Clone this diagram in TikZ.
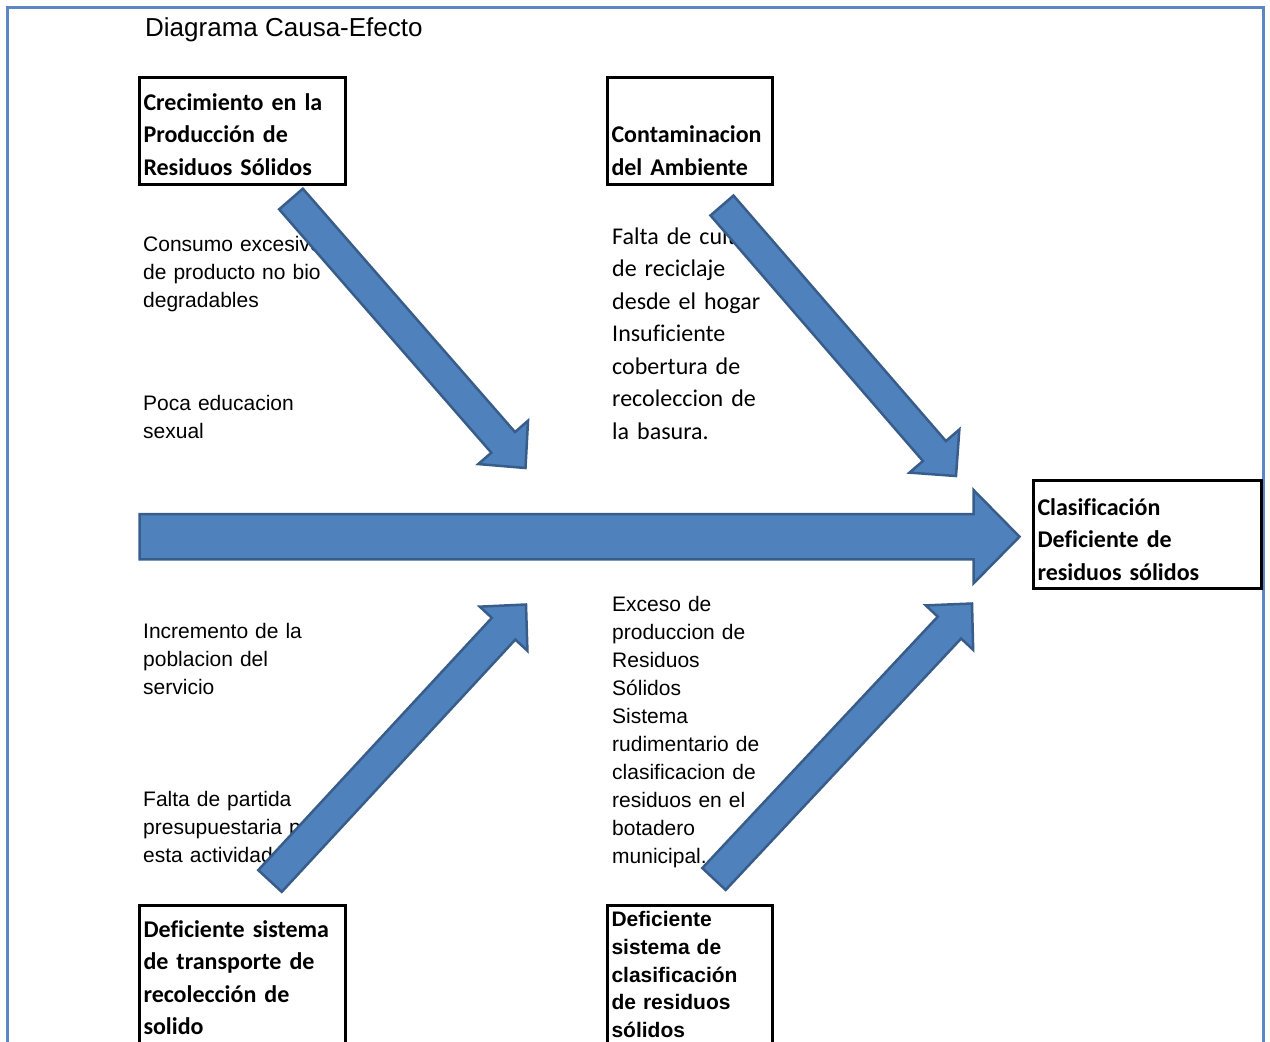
\documentclass[tikz,border=0pt]{standalone}
\usepackage{fontspec}
\usetikzlibrary{calc}
\newfontfamily\calibrifont[Ligatures=NoCommon]{Carlito}
\newfontfamily\arialfont{Liberation Sans}

\newlength{\du}
\setlength{\du}{1pt}

\definecolor{arrowfillcolor}{rgb}{0.309804, 0.505882, 0.741176}
\definecolor{arrowlinecolor}{rgb}{0.219608, 0.364706, 0.541176}
\definecolor{framecolor}{rgb}{0.360784, 0.529412, 0.756863}

\tikzset{
  causebox/.style={draw=black, line width=3\du, anchor=north west, outer sep=0pt,
    inner xsep=4.5\du, inner ysep=0pt, align=left},
  boxcalibri/.style={font=\calibrifont\bfseries\fontsize{24}{32.6}\selectfont},
  boxarial/.style={font=\arialfont\bfseries\fontsize{21}{27.8}\selectfont},
  causetext/.style={anchor=base west, inner sep=0pt, align=left, text width=260\du},
  textarial/.style={font=\arialfont\fontsize{21}{28}\selectfont},
  textcalibri/.style={font=\calibrifont\fontsize{24}{32.5}\selectfont},
  fishbody/.style={fill=arrowfillcolor, draw=arrowlinecolor, line width=2.5\du, line join=miter},
}

% block arrow: tail, tip, shaft half width, head half width, head length
\newcommand{\fisharrow}[5]{%
  \coordinate (headbase) at ($(#2)!#5!(#1)$);
  \draw[fishbody] ($(#1)!#3!90:(#2)$) -- ($(headbase)!#3!-90:(#1)$)
    -- ($(headbase)!#4!-90:(#1)$) -- (#2) -- ($(headbase)!#4!90:(#1)$)
    -- ($(headbase)!#3!90:(#1)$) -- ($(#1)!#3!-90:(#2)$) -- cycle;
}

\begin{document}
\begin{tikzpicture}
\pgftransformxscale{1.000000}
\pgftransformyscale{-1.000000}
\useasboundingbox (0\du,0\du) rectangle (1270\du,1042\du);
% page frame
\draw[framecolor, line width=2.5\du] (7.5\du,7.5\du) rectangle (1263.5\du,1065\du);

\node[anchor=base west, inner sep=0pt, font=\arialfont\fontsize{26}{30}\selectfont] (title)
  at (145\du,36\du) {Diagrama Causa-Efecto};

% causes and effect
\node[causebox, boxcalibri, text width=197\du, text height=33\du, text depth=74\du] (crecimiento)
  at (139\du,77\du) {Crecimiento en la\\Producción de\\Residuos Sólidos};
\node[causebox, boxcalibri, text width=156\du, text height=33\du, text depth=74\du] (contaminacion)
  at (607\du,77\du) {\mbox{}\\Contaminacion\\del Ambiente};
\node[causebox, boxcalibri, text width=219\du, text height=35\du, text depth=73\du] (clasificacion)
  at (1033\du,480\du) {Clasificación\\Deficiente de\\residuos sólidos};
\node[causebox, boxcalibri, text width=197\du, text height=32\du, text depth=150\du] (transporte)
  at (139\du,905\du) {Deficiente sistema\\de transporte de\\recolección de\\solido};
\node[causebox, boxarial, text width=156\du, text height=21.5\du, text depth=150\du] (sistema)
  at (607\du,905\du) {Deficiente\\sistema de\\clasificación\\de residuos\\sólidos};

% sub causes
\node[causetext, textarial] (consumo) at (143\du,251\du)
  {Consumo excesivo\\de producto no bio\\degradables};
\node[causetext, textarial] (educacion) at (143\du,410\du)
  {Poca educacion\\sexual};
\node[causetext, textcalibri] (cultura) at (612\du,244\du)
  {Falta de cultura\\de reciclaje\\desde el hogar\\Insuficiente\\cobertura de\\recoleccion de\\la basura.};
\node[causetext, textarial] (incremento) at (143\du,638\du)
  {Incremento de la\\poblacion del\\servicio};
\node[causetext, textarial] (partida) at (143\du,806\du)
  {Falta de partida\\presupuestaria para\\esta actividad.};
\node[causetext, textarial] (exceso) at (612\du,611\du)
  {Exceso de\\produccion de\\Residuos\\Sólidos\\Sistema\\rudimentario de\\clasificacion de\\residuos en el\\botadero\\municipal.};

% arrow ends
\coordinate (spinetail) at (139.5\du,536.7\du);
\coordinate (spinetip) at (1019.5\du,536.7\du);
\coordinate (crectail) at (291\du,199\du);
\coordinate (crectip) at (525.5\du,468\du);
\coordinate (contail) at (722\du,205.5\du);
\coordinate (contip) at (956\du,476\du);
\coordinate (transtail) at (270\du,881\du);
\coordinate (transtip) at (526\du,604.5\du);
\coordinate (clastail) at (714\du,879\du);
\coordinate (clastip) at (972\du,603.5\du);

\fisharrow{spinetail}{spinetip}{22.6pt}{46.7pt}{46pt}
\fisharrow{crectail}{crectip}{15.7pt}{33pt}{34pt}
\fisharrow{contail}{contip}{15.2pt}{33pt}{33pt}
\fisharrow{transtail}{transtip}{16pt}{32.5pt}{33pt}
\fisharrow{clastail}{clastip}{16pt}{32.5pt}{33pt}
\end{tikzpicture}
\end{document}
